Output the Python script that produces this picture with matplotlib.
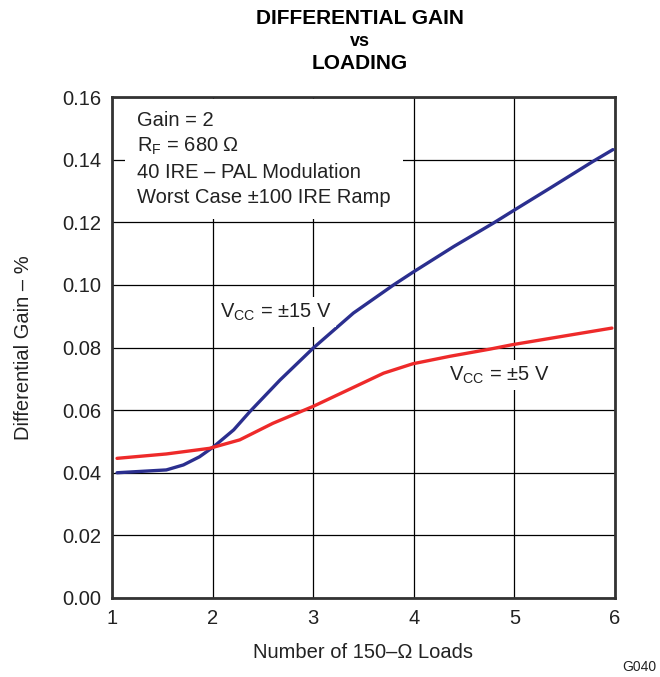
import matplotlib.pyplot as plt

plt.rcParams['font.family'] = ['Liberation Sans', 'DejaVu Sans']
plt.rcParams['mathtext.fontset'] = 'custom'
plt.rcParams['mathtext.rm'] = 'Liberation Sans'
plt.rcParams['mathtext.it'] = 'Liberation Sans'

# ---------- Data ----------
loads_15v = [1.05, 1.54, 1.71, 1.87, 2.01, 2.21, 2.37, 2.67, 3.0, 3.40,
             3.80, 3.99, 4.40, 4.79, 4.98, 5.36, 5.78, 5.98]
gain_15v = [0.0400, 0.0409, 0.0425, 0.0451, 0.0483, 0.0537, 0.0595, 0.0696,
            0.0798, 0.0910, 0.1000, 0.1040, 0.1123, 0.1197, 0.1235, 0.1310,
            0.1394, 0.1432]

loads_5v = [1.05, 1.54, 1.97, 2.27, 2.60, 3.0, 3.37, 3.70, 3.99, 4.36,
            4.76, 4.98, 5.52, 5.97]
gain_5v = [0.0446, 0.0460, 0.0478, 0.0505, 0.0558, 0.0612, 0.0668, 0.0718,
           0.0748, 0.0772, 0.0795, 0.0809, 0.0838, 0.0862]

x_ticks = [1, 2, 3, 4, 5, 6]
y_ticks = [0.00, 0.02, 0.04, 0.06, 0.08, 0.10, 0.12, 0.14, 0.16]

BLUE = "#2b2f8f"
RED = "#ee2a2a"
FS = 14.5

# ---------- Plot ----------
fig = plt.figure(figsize=(6.6, 6.77), dpi=100)
ax = fig.add_axes([0.1697, 0.1167, 0.762, 0.740])

ax.plot(loads_15v, gain_15v, color=BLUE, lw=2.4, zorder=3,
        solid_capstyle="round", solid_joinstyle="round")
ax.plot(loads_5v, gain_5v, color=RED, lw=2.4, zorder=3,
        solid_capstyle="round", solid_joinstyle="round")

ax.set_xlim(1, 6)
ax.set_ylim(0, 0.16)
ax.set_xticks(x_ticks)
ax.set_yticks(y_ticks)
ax.set_xticklabels([str(t) for t in x_ticks])
ax.set_yticklabels([f"{t:.2f}" for t in y_ticks])
ax.tick_params(length=0, labelsize=FS, pad=8, colors="#222222")
ax.grid(True, color="black", lw=0.9, zorder=1)
ax.set_axisbelow(True)
for sp in ax.spines.values():
    sp.set_linewidth(2)
    sp.set_color("#333333")

ax.set_xlabel("Number of 150\u2013\u03a9 Loads", fontsize=FS, labelpad=11,
              color="#222222")
ax.set_ylabel("Differential Gain \u2013 %", fontsize=FS, labelpad=21,
              color="#222222")

# ---------- Annotations ----------
notes = ("Gain = 2\n"
         "R$_\\mathrm{F}$ = 680 \u03a9\n"
         "40 IRE \u2013 PAL Modulation\n"
         "Worst Case \u00b1100 IRE Ramp")
ax.text(1.25, 0.1555, notes, fontsize=FS, va="top", ha="left",
        linespacing=1.38, zorder=4, color="#222222",
        bbox=dict(facecolor="white", edgecolor="none", pad=9))

ax.text(2.07, 0.0913, "V$_\\mathrm{CC}$ = \u00b115 V", fontsize=FS,
        va="center", ha="left", zorder=4, color="#222222",
        bbox=dict(facecolor="white", edgecolor="none", pad=3))
ax.text(4.35, 0.0712, "V$_\\mathrm{CC}$ = \u00b15 V", fontsize=FS,
        va="center", ha="left", zorder=4, color="#222222",
        bbox=dict(facecolor="white", edgecolor="none", pad=3))

# ---------- Title ----------
fig.text(0.545, 0.972, "DIFFERENTIAL GAIN", ha="center", va="center",
         fontsize=15, fontweight="bold")
fig.text(0.545, 0.939, "vs", ha="center", va="center",
         fontsize=13, fontweight="bold")
fig.text(0.545, 0.906, "LOADING", ha="center", va="center",
         fontsize=15, fontweight="bold")

fig.text(0.995, 0.005, "G040", ha="right", va="bottom", fontsize=10,
         color="#222222")

fig.savefig("out.png", dpi=100)
